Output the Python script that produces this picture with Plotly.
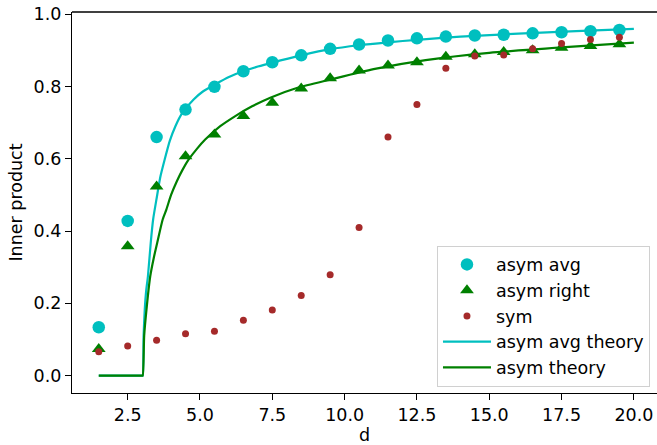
import plotly.graph_objects as go

d = [1.5, 2.5, 3.5, 4.5, 5.5, 6.5, 7.5, 8.5, 9.5, 10.5, 11.5, 12.5, 13.5, 14.5, 15.5, 16.5, 17.5, 18.5, 19.5]
asym_avg = [0.134, 0.428, 0.660, 0.736, 0.799, 0.842, 0.867, 0.886, 0.904, 0.916, 0.927, 0.933,
            0.938, 0.941, 0.943, 0.947, 0.950, 0.953, 0.956]
asym_right = [0.074, 0.358, 0.523, 0.607, 0.667, 0.718, 0.755, 0.794, 0.823, 0.844, 0.858, 0.867,
              0.882, 0.889, 0.895, 0.900, 0.907, 0.912, 0.917]
sym = [0.066, 0.082, 0.098, 0.116, 0.123, 0.153, 0.182, 0.222, 0.279, 0.410, 0.660, 0.750,
       0.850, 0.884, 0.887, 0.904, 0.919, 0.930, 0.936]

avg_theory_d = [1.5, 3.0, 3.02, 3.05, 3.09, 3.14, 3.20, 3.30, 3.38, 3.50, 3.63, 3.78, 3.95, 4.15,
                4.4, 4.78, 5.1, 5.53, 6.0, 6.5, 7.0, 7.5, 8.5, 9.5, 10.5, 11.5, 12.5, 14.0, 16.0,
                18.0, 20.0]
avg_theory = [0.0, 0.0, 0.0, 0.110, 0.183, 0.235, 0.275, 0.370, 0.432, 0.490, 0.550, 0.598, 0.648,
              0.690, 0.728, 0.764, 0.786, 0.806, 0.826, 0.842, 0.855, 0.866, 0.886, 0.903, 0.914,
              0.922, 0.929, 0.938, 0.946, 0.953, 0.959]
theory_d = [1.5, 3.0, 3.02, 3.07, 3.15, 3.28, 3.40, 3.52, 3.71, 3.84, 4.0, 4.2, 4.4, 4.61, 4.9,
            5.18, 5.7, 6.22, 6.8, 7.43, 8.4, 9.5, 11.0, 12.8, 15.0, 17.5, 20.0]
theory = [0.0, 0.0, 0.0, 0.110, 0.183, 0.275, 0.325, 0.367, 0.432, 0.460, 0.500, 0.538, 0.570,
          0.598, 0.628, 0.653, 0.690, 0.718, 0.745, 0.769, 0.797, 0.819, 0.848, 0.873, 0.893,
          0.908, 0.921]

CYAN = "#00bfbf"
GREEN = "#008000"
BROWN = "#a52a2a"
FONT = "DejaVu Sans"
FS = 17.5

fig = go.Figure()
fig.add_trace(go.Scatter(x=avg_theory_d, y=avg_theory, mode="lines", name="asym avg theory",
                         line=dict(color=CYAN, width=2.2, shape="spline", smoothing=0.6),
                         legendgroup="d", legendrank=4))
fig.add_trace(go.Scatter(x=theory_d, y=theory, mode="lines", name="asym theory",
                         line=dict(color=GREEN, width=2.2, shape="spline", smoothing=0.6),
                         legendgroup="e", legendrank=5))
fig.add_trace(go.Scatter(x=d, y=asym_avg, mode="markers", name="asym avg",
                         marker=dict(color=CYAN, size=12.5, symbol="circle"),
                         legendgroup="a", legendrank=1))
fig.add_trace(go.Scatter(x=d, y=asym_right, mode="markers", name="asym right",
                         marker=dict(color=GREEN, size=12, symbol="triangle-up"),
                         legendgroup="b", legendrank=2))
fig.add_trace(go.Scatter(x=d, y=sym, mode="markers", name="sym",
                         marker=dict(color=BROWN, size=7, symbol="circle"),
                         legendgroup="c", legendrank=3))

axis_common = dict(
    showgrid=False, zeroline=False, showline=True, linecolor="black", linewidth=1.3,
    ticks="outside", ticklen=6, tickwidth=1.3, tickcolor="black",
    tickfont=dict(family=FONT, size=FS, color="black"),
)

fig.update_layout(
    width=657, height=445,
    margin=dict(l=72, r=0, t=12, b=52),
    paper_bgcolor="white", plot_bgcolor="white",
    font=dict(family=FONT, size=FS, color="black"),
    xaxis=dict(range=[0.575, 20.80], tick0=0, dtick=2.5, tickformat=".1f", mirror=False,
               title=dict(text="d", font=dict(family=FONT, size=FS), standoff=2),
               **axis_common),
    yaxis=dict(range=[-0.0479, 1.0059], tick0=0, dtick=0.2, tickformat=".1f",
               title=dict(text="Inner product", font=dict(family=FONT, size=FS), standoff=6),
               **axis_common),
    legend=dict(x=0.988, y=0.017, xanchor="right", yanchor="bottom",
                bgcolor="rgba(255,255,255,0.8)", bordercolor="#d0d0d0", borderwidth=1,
                font=dict(family=FONT, size=FS), tracegroupgap=0, traceorder="grouped",
                itemwidth=48),
    showlegend=True,
)
fig.add_shape(type="line", xref="paper", yref="paper", x0=0, x1=1, y0=1, y1=1,
              line=dict(color="black", width=1.3))

fig.write_html("out.html")
